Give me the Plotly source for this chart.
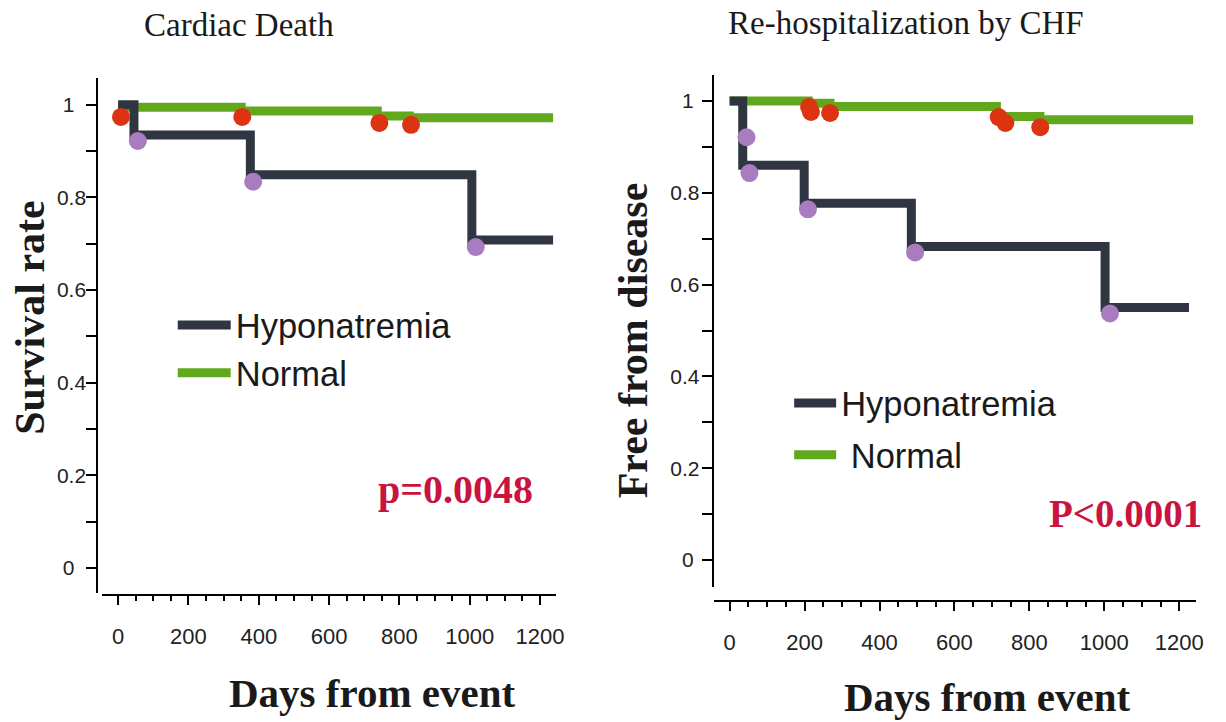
import plotly.graph_objects as go

W, H = 1226, 722

# ---------------- data ----------------
# Left panel: Cardiac Death
cd_hypo_days = [0, 45, 376, 1006, 1237]
cd_hypo_surv = [1.0, 0.935, 0.849, 0.708, 0.708]
cd_norm_days = [0, 350, 737, 828, 1237]
cd_norm_surv = [0.995, 0.987, 0.976, 0.972, 0.972]
cd_hypo_mark_days = [56, 384, 1017]
cd_hypo_mark_surv = [0.922, 0.834, 0.693]
cd_norm_mark_days = [8, 353, 743, 833]
cd_norm_mark_surv = [0.974, 0.974, 0.961, 0.957]

# Right panel: Re-hospitalization by CHF
rh_hypo_days = [0, 35, 199, 485, 1002, 1226]
rh_hypo_free = [1.0, 0.860, 0.777, 0.683, 0.550, 0.550]
rh_norm_days = [0, 210, 268, 712, 828, 1237]
rh_norm_free = [1.0, 0.995, 0.988, 0.966, 0.959, 0.959]
rh_hypo_mark_days = [45, 53, 209, 495, 1015]
rh_hypo_mark_free = [0.921, 0.843, 0.764, 0.670, 0.537]
rh_norm_mark_days = [212, 217, 268, 718, 736, 829]
rh_norm_mark_free = [0.987, 0.976, 0.974, 0.965, 0.952, 0.943]

x_tick_vals = [0, 200, 400, 600, 800, 1000, 1200]
y_tick_vals = [0, 0.1, 0.2, 0.3, 0.4, 0.5, 0.6, 0.7, 0.8, 0.9, 1.0]
y_tick_text_left = ["0\u00a0\u00a0", "", "0.2", "", "0.4", "", "0.6", "", "0.8", "", "1\u00a0\u00a0"]
y_tick_text_right = ["0\u00a0", "", "0.2", "", "0.4", "", "0.6", "", "0.8", "", "1\u00a0"]

DARK = "#2f3641"
GREEN = "#62a81c"
RED = "#dc3412"
PURPLE = "#a97cc0"
PCOL = "#c8143f"

def px(x):
    return x / W

def py(y):
    return 1 - y / H

fig = go.Figure()

# ---- left panel
fig.add_trace(go.Scatter(x=cd_norm_days, y=cd_norm_surv, mode="lines", line_shape="hv",
                         line=dict(color=GREEN, width=9), name="Normal",
                         xaxis="x", yaxis="y", legend="legend", legendgroup="b"))
fig.add_trace(go.Scatter(x=cd_hypo_days, y=cd_hypo_surv, mode="lines", line_shape="hv",
                         line=dict(color=DARK, width=9), name="Hyponatremia",
                         xaxis="x", yaxis="y", legend="legend", legendgroup="a", legendrank=1))
fig.add_trace(go.Scatter(x=cd_norm_mark_days, y=cd_norm_mark_surv, mode="markers",
                         marker=dict(color=RED, size=18), showlegend=False,
                         xaxis="x", yaxis="y"))
fig.add_trace(go.Scatter(x=cd_hypo_mark_days, y=cd_hypo_mark_surv, mode="markers",
                         marker=dict(color=PURPLE, size=18), showlegend=False,
                         xaxis="x", yaxis="y"))

# ---- right panel
fig.add_trace(go.Scatter(x=rh_norm_days, y=rh_norm_free, mode="lines", line_shape="hv",
                         line=dict(color=GREEN, width=9), name="\u00a0Normal",
                         xaxis="x2", yaxis="y2", legend="legend2", legendgroup="d"))
fig.add_trace(go.Scatter(x=rh_hypo_days, y=rh_hypo_free, mode="lines", line_shape="hv",
                         line=dict(color=DARK, width=9), name="Hyponatremia",
                         xaxis="x2", yaxis="y2", legend="legend2", legendgroup="c", legendrank=1))
fig.add_trace(go.Scatter(x=rh_norm_mark_days, y=rh_norm_mark_free, mode="markers",
                         marker=dict(color=RED, size=18), showlegend=False,
                         xaxis="x2", yaxis="y2"))
fig.add_trace(go.Scatter(x=rh_hypo_mark_days, y=rh_hypo_mark_free, mode="markers",
                         marker=dict(color=PURPLE, size=18), showlegend=False,
                         xaxis="x2", yaxis="y2"))

tickfont = dict(family="Liberation Sans, Arial", size=22, color="#222222")

def xaxis_cfg(d0, d1, r0, r1, pos):
    return dict(domain=[px(d0), px(d1)], range=[r0, r1], anchor="free", position=py(pos),
                showline=True, linecolor="black", linewidth=2, ticks="outside",
                ticklen=9, tickwidth=2, tickcolor="black", tickvals=x_tick_vals,
                minor=dict(dtick=50, ticks="outside", ticklen=5, tickwidth=1.5, tickcolor="black"),
                showgrid=False, zeroline=False, tickfont=tickfont, ticklabelstandoff=13,
                fixedrange=True)

def yaxis_cfg(d0, d1, r0, r1, pos, text, standoff):
    return dict(domain=[py(d0), py(d1)], range=[r0, r1], anchor="free", position=px(pos),
                showline=True, linecolor="black", linewidth=2, ticks="outside",
                ticklen=10, tickwidth=2, tickcolor="black", tickvals=y_tick_vals,
                ticktext=text, showgrid=False, zeroline=False, ticklabelstandoff=standoff,
                tickfont=dict(family="Liberation Sans, Arial", size=21, color="#222222"),
                fixedrange=True)

legfont = dict(family="Liberation Sans, Arial", size=34.5, color="#1a1a1a")

fig.update_layout(
    width=W, height=H, margin=dict(l=0, r=0, t=0, b=0),
    paper_bgcolor="white", plot_bgcolor="white",
    xaxis=xaxis_cfg(103, 560, -45.2, 1245, 595),
    yaxis=yaxis_cfg(593, 78, -0.054, 1.058, 98, y_tick_text_left, -4),
    xaxis2=xaxis_cfg(719, 1205, -42.4, 1245, 601),
    yaxis2=yaxis_cfg(587, 75, -0.0588, 1.0566, 718, y_tick_text_right, -2),
    legend=dict(x=px(174), y=py(296), xanchor="left", yanchor="top", font=legfont,
                itemwidth=53, tracegroupgap=0, bgcolor="rgba(0,0,0,0)",
                traceorder="grouped"),
    legend2=dict(x=px(795), y=py(374), xanchor="left", yanchor="top", font=legfont,
                 itemwidth=42, tracegroupgap=4, bgcolor="rgba(0,0,0,0)",
                 traceorder="grouped"),
    showlegend=True,
)

serif = "Liberation Serif, Times New Roman"
ann = [
    dict(text="Cardiac Death", x=px(241), y=py(25), font=dict(family=serif, size=33, color="#1a1a1a")),
    dict(text="Re-hospitalization by CHF", x=px(913), y=py(23), font=dict(family=serif, size=33, color="#1a1a1a")),
    dict(text="<b>Survival rate</b>", x=px(30), y=py(318), textangle=-90,
         font=dict(family=serif, size=42, color="#1a1a1a")),
    dict(text="<b>Free from disease</b>", x=px(638), y=py(340), textangle=-90,
         font=dict(family=serif, size=42, color="#1a1a1a")),
    dict(text="<b>Days from event</b>", x=px(375), y=py(693), font=dict(family=serif, size=41, color="#1a1a1a")),
    dict(text="<b>Days from event</b>", x=px(995), y=py(697), font=dict(family=serif, size=41, color="#1a1a1a")),
    dict(text="<b>p=0.0048</b>", x=px(459), y=py(490), font=dict(family=serif, size=40, color=PCOL)),
    dict(text="<b>P&lt;0.0001</b>", x=px(1134), y=py(513), font=dict(family=serif, size=39, color=PCOL)),
]
for a in ann:
    a.update(xref="paper", yref="paper", showarrow=False, xanchor="center", yanchor="middle")
fig.update_layout(annotations=ann)

fig.write_html("out.html")
